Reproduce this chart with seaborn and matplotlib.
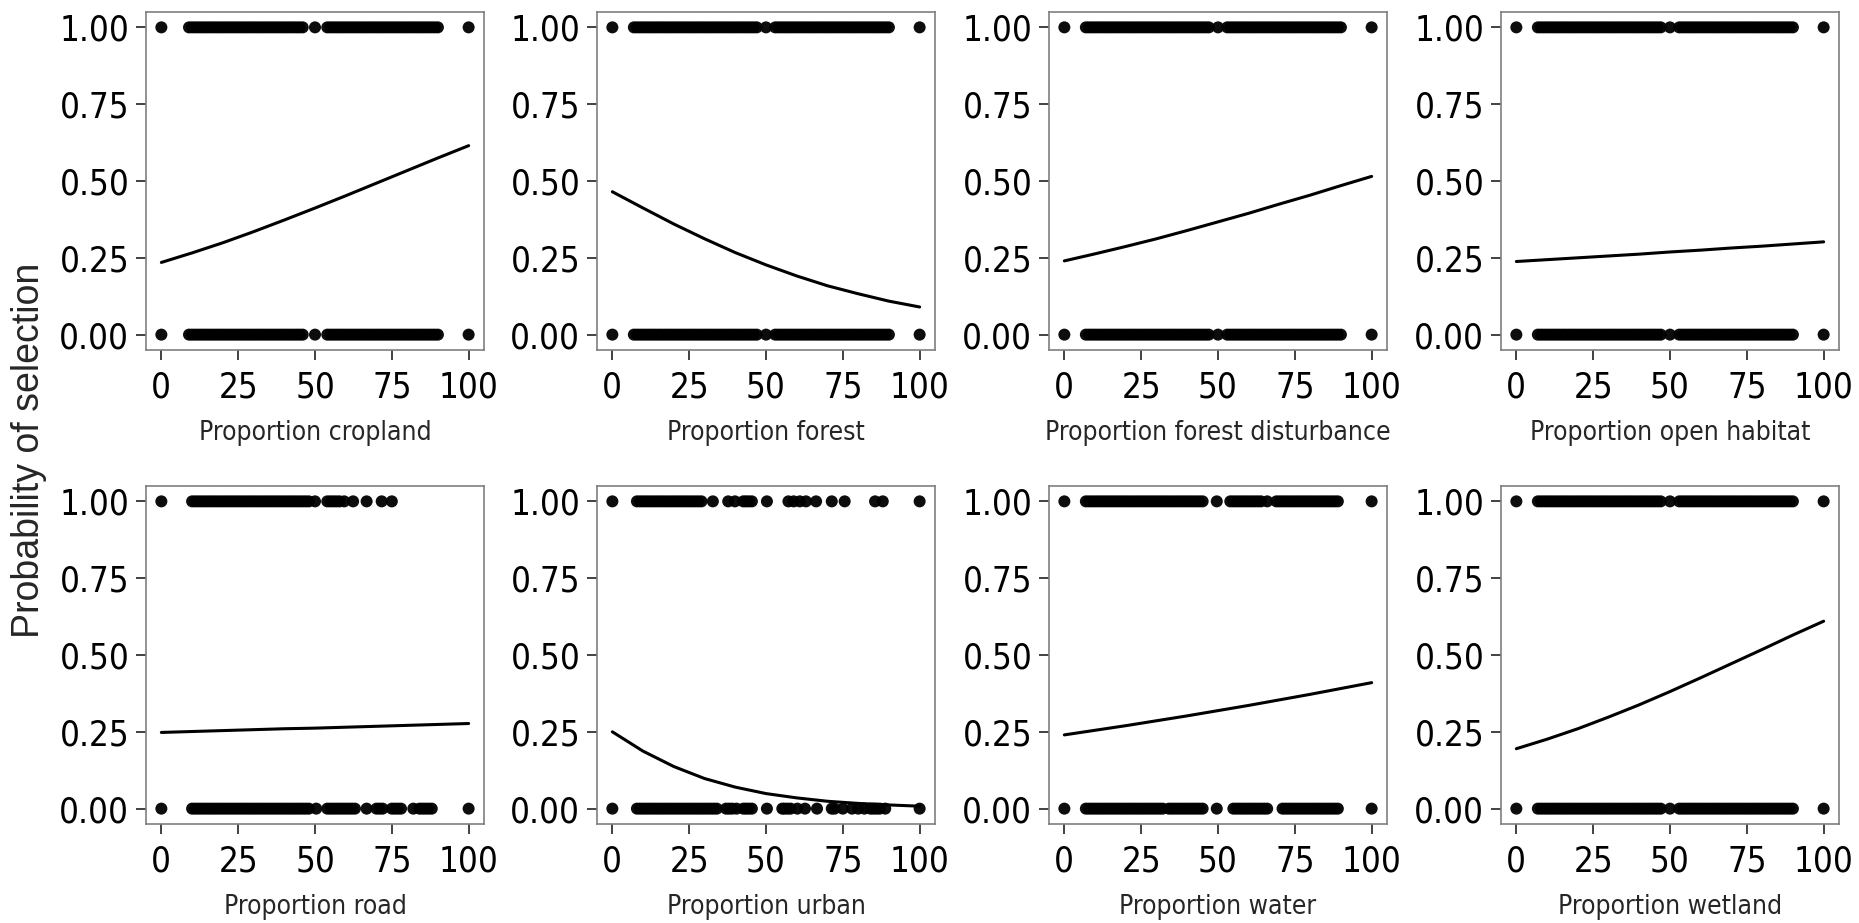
# coding=utf-8
import pandas as pd
import seaborn as sns
import matplotlib.pyplot as plt
from matplotlib import font_manager

# x positions (percent cover) of used (1) and available (0) locations
band_typ = [0, 7, 8, 9, 10, 11, 12, 13, 14, 15, 16, 17, 18, 19, 20, 21, 22,
            23, 24, 25, 26, 27, 28, 29, 30, 31, 32, 33, 34, 35, 36, 37, 38,
            39, 40, 41, 42, 43, 44, 45, 46, 47, 50, 53, 54, 55, 56, 57, 58,
            59, 60, 61, 62, 63, 64, 65, 66, 67, 68, 69, 70, 71, 72, 73, 74,
            75, 76, 77, 78, 79, 80, 81, 82, 83, 84, 85, 86, 87, 88, 89, 90,
            100]
band_crop = [0, 9, 10, 11, 12, 13, 14, 15, 16, 17, 18, 19, 20, 21, 22, 23,
             24, 25, 26, 27, 28, 29, 30, 31, 32, 33, 34, 35, 36, 37, 38, 39,
             40, 41, 42, 43, 44, 45, 46, 50, 54, 55, 56, 57, 58, 59, 60, 61,
             62, 63, 64, 65, 66, 67, 68, 69, 70, 71, 72, 73, 74, 75, 76, 77,
             78, 79, 80, 81, 82, 83, 84, 85, 86, 87, 88, 89, 90, 100]

road_used = [0, 10, 11, 12, 13, 14, 15, 16, 17, 18, 19, 20, 21, 22, 23, 24,
             25, 26, 27, 28, 29, 30, 31, 32, 33, 34, 35, 36, 37, 38, 39, 40,
             41, 42, 43, 44, 45, 46, 47, 48, 50, 54, 55, 56, 57, 58, 59.5,
             62.4, 66.8, 71.7, 75]
road_avail = [0, 10, 11, 12, 13, 14, 15, 16, 17, 18, 19, 20, 21, 22, 23, 24,
              25, 26, 27, 28, 29, 30, 31, 32, 33, 34, 35, 36, 37, 38, 39, 40,
              41, 42, 43, 44, 45, 46, 47, 48, 50.4, 54, 55, 56, 57, 58, 59,
              60, 61, 62, 63, 66.8, 70, 71, 72, 75, 76, 77, 78, 82, 84, 85,
              86, 87, 88, 100]

urban_used = [0, 8, 9, 10, 11, 12, 13, 14, 15, 16, 17, 18, 19, 20, 21, 22,
              23, 24, 25, 26, 27, 28, 29, 32.7, 37.7, 39.9, 42.6, 43.5, 44.4,
              45.4, 50.3, 57.3, 59, 61, 63, 66.3, 71.4, 75.6, 85.5, 88, 100]
urban_avail = [0, 8, 9, 10, 11, 12, 13, 14, 15, 16, 17, 18, 19, 20, 21, 22,
               23, 24, 25, 26, 27, 28, 29, 30, 31, 32, 33, 34, 37, 38, 39,
               40.4, 42.6, 43.5, 44.4, 45.4, 50.3, 55.3, 56, 57, 58, 60.2,
               62.7, 66.6, 71.4, 72.3, 75, 78, 80, 82, 84, 85, 86, 87, 88.8,
               100]

water_used = [0, 7, 8, 9, 10, 11, 12, 13, 14, 15, 16, 17, 18, 19, 20, 21, 22,
              23, 24, 25, 26, 27, 28, 29, 30, 31, 32, 33, 34, 35, 36, 37, 38,
              39, 40, 41, 42, 43, 44, 45, 49.6, 54, 55, 56, 57, 58, 59, 60,
              61, 62, 63, 64, 66, 69, 70, 71, 72, 73, 74, 75, 76, 77, 78, 79,
              80, 81, 82, 83, 84, 85, 86, 87, 88, 89, 100]
water_avail = [0, 7, 8, 9, 10, 11, 12, 13, 14, 15, 16, 17, 18, 19, 20, 21,
               22, 23, 24, 25, 26, 27, 28, 29, 30, 31, 32, 34, 35, 36, 37, 38,
               39, 40, 41, 42, 43, 44, 45, 49.6, 55, 56, 57, 58, 59, 60, 61,
               62, 63, 64, 65, 66, 71, 72, 73, 74, 75, 76, 77, 78, 79, 80, 81,
               82, 83, 84, 85, 86, 87, 88, 89, 100]

# fitted probability of selection read at x = 0, 10, ..., 100
x_grid = [0, 10, 20, 30, 40, 50, 60, 70, 80, 90, 100]
fit_cropland = [0.235, 0.266, 0.299, 0.335, 0.373, 0.412, 0.452, 0.493,
                0.534, 0.575, 0.615]
fit_forest = [0.465, 0.412, 0.360, 0.312, 0.267, 0.227, 0.191, 0.159, 0.133,
              0.109, 0.090]
fit_disturb = [0.240, 0.263, 0.287, 0.312, 0.339, 0.367, 0.395, 0.425, 0.454,
               0.485, 0.515]
fit_open = [0.238, 0.244, 0.250, 0.256, 0.262, 0.269, 0.275, 0.282, 0.288,
            0.295, 0.302]
fit_road = [0.248, 0.251, 0.254, 0.257, 0.260, 0.262, 0.265, 0.268, 0.271,
            0.274, 0.277]
fit_urban = [0.250, 0.187, 0.137, 0.098, 0.070, 0.049, 0.035, 0.024, 0.017,
             0.012, 0.008]
fit_water = [0.240, 0.255, 0.270, 0.286, 0.302, 0.319, 0.336, 0.354, 0.372,
             0.391, 0.410]
fit_wetland = [0.195, 0.226, 0.260, 0.298, 0.338, 0.381, 0.426, 0.472, 0.518,
               0.565, 0.610]

labels = ["Proportion cropland", "Proportion forest",
          "Proportion forest disturbance", "Proportion open habitat",
          "Proportion road", "Proportion urban", "Proportion water",
          "Proportion wetland"]
used_x = [band_crop, band_typ, band_typ, band_typ,
          road_used, urban_used, water_used, band_typ]
avail_x = [band_crop, band_typ, band_typ, band_typ,
           road_avail, urban_avail, water_avail, band_typ]
fits = [fit_cropland, fit_forest, fit_disturb, fit_open,
        fit_road, fit_urban, fit_water, fit_wetland]

sns.set_style("white")

# narrow font for the ticks and axis titles if one is installed
fonts = {(f.name, f.stretch) for f in font_manager.fontManager.ttflist}
names = {f[0] for f in fonts}
stretch = "normal"
if "Liberation Sans Narrow" in names:
    narrow = "Liberation Sans Narrow"
elif ("DejaVu Sans", "condensed") in fonts or \
        ("DejaVu Sans", "semi-condensed") in fonts:
    narrow = "DejaVu Sans"
    stretch = "condensed"
elif "Roboto Condensed" in names:
    narrow = "Roboto Condensed"
else:
    narrow = "Liberation Sans"
plt.rcParams['font.family'] = [narrow, 'DejaVu Sans']
plt.rcParams['font.stretch'] = stretch

fig = plt.figure(figsize=(18.59, 9.23), dpi=100)
W, H = 1859, 923
cols = [146, 597, 1049, 1501]
rows = [350, 824]
size = 338

for i in range(8):
    left = cols[i % 4]
    bottom = rows[i // 4]
    ax = fig.add_axes([left / W, 1 - bottom / H, size / W, size / H])

    pts = pd.DataFrame({"x": used_x[i] + avail_x[i],
                        "y": [1] * len(used_x[i]) + [0] * len(avail_x[i])})
    sns.scatterplot(ax=ax, data=pts, x="x", y="y", color="black", s=75,
                    alpha=0.95, edgecolor="none", linewidth=0)
    fit = pd.DataFrame({"x": x_grid, "p": fits[i]})
    sns.lineplot(ax=ax, data=fit, x="x", y="p", color="black", lw=2.2)

    ax.set_xlim(-5, 105)
    ax.set_ylim(-0.05, 1.05)
    ax.set_xticks([0, 25, 50, 75, 100])
    ax.set_yticks([0, 0.25, 0.5, 0.75, 1.0])
    ax.set_yticklabels(["0.00", "0.25", "0.50", "0.75", "1.00"])
    ax.tick_params(axis="both", length=7, width=1.3, color="#333333",
                   labelsize=25, labelcolor="black", pad=5, direction="out",
                   bottom=True, left=True)
    ax.tick_params(axis="x", pad=8)
    for sp in ax.spines.values():
        sp.set_color("#7f7f7f")
        sp.set_linewidth(1.2)
    ax.set_xlabel(labels[i], fontsize=19, labelpad=11)
    ax.set_ylabel("")

fig.text(29 / W, 0.5125, "Probability of selection", rotation=90,
         ha="center", va="center", fontsize=27, family="Liberation Sans",
         stretch="normal")

fig.savefig("out.png", dpi=100)
plt.close(fig)
